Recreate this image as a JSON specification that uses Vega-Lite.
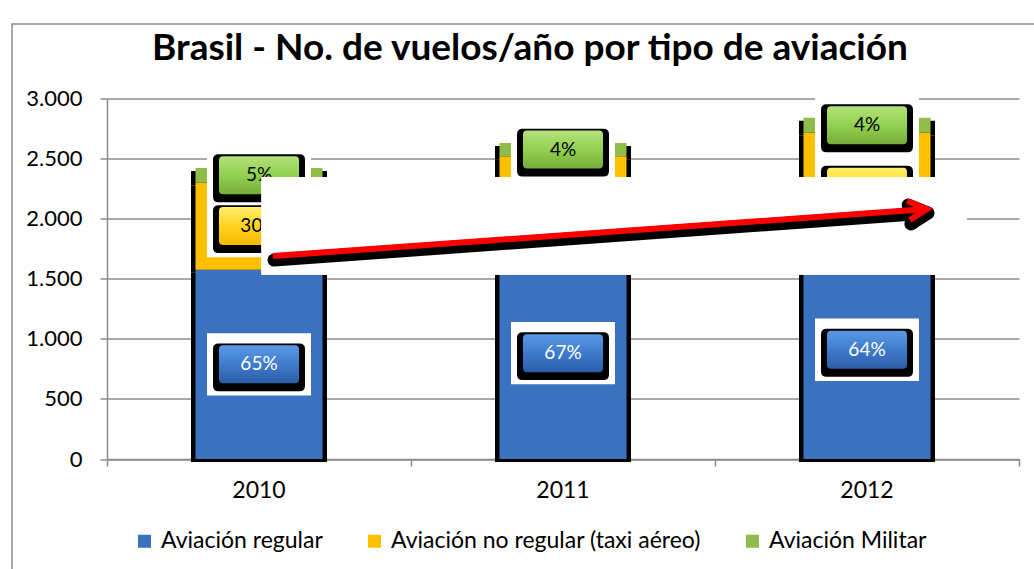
{
  "$schema": "https://vega.github.io/schema/vega-lite/v6.json",
  "width": 912,
  "height": 360.5,
  "autosize": {"type": "none"},
  "padding": {"left": 107, "top": 98.5, "right": 15, "bottom": 110},
  "background": "white",
  "config": {
    "font": "Lato",
    "view": {"stroke": null},
    "locale": {"number": {"decimal": ",", "thousands": ".", "grouping": [3], "currency": ["", "€"]}}
  },
  "title": {
    "text": "Brasil - No. de vuelos/año por tipo de aviación",
    "font": "Lato",
    "fontSize": 37,
    "fontWeight": "bold",
    "color": "black",
    "anchor": "middle",
    "frame": "group",
    "baseline": "bottom",
    "offset": -82,
    "dx": -33
  },
  "datasets": {
    "vuelos": [
      {"year": "2010", "tipo": "Aviación regular", "vuelos": 1575, "pct": "65%", "orden": 1},
      {"year": "2010", "tipo": "Aviación no regular (taxi aéreo)", "vuelos": 726, "pct": "30%", "orden": 2},
      {"year": "2010", "tipo": "Aviación Militar", "vuelos": 121, "pct": "5%", "orden": 3},
      {"year": "2011", "tipo": "Aviación regular", "vuelos": 1762, "pct": "67%", "orden": 1},
      {"year": "2011", "tipo": "Aviación no regular (taxi aéreo)", "vuelos": 758, "pct": "29%", "orden": 2},
      {"year": "2011", "tipo": "Aviación Militar", "vuelos": 110, "pct": "4%", "orden": 3},
      {"year": "2012", "tipo": "Aviación regular", "vuelos": 1818, "pct": "64%", "orden": 1},
      {"year": "2012", "tipo": "Aviación no regular (taxi aéreo)", "vuelos": 897, "pct": "32%", "orden": 2},
      {"year": "2012", "tipo": "Aviación Militar", "vuelos": 125, "pct": "4%", "orden": 3}
    ],
    "overlay": [
      {"ax": 0.507, "ax2": 2.829, "ay": 1531, "ay2": 2347}
    ],
    "frame": [
      {"ax": -0.3125, "ax2": 3.4, "ay": 3620, "ay2": -1500}
    ],
    "arrow": [
      {"seg": "shaft", "k": 1, "ax": 0.546, "ay": 1689},
      {"seg": "shaft", "k": 2, "ax": 2.697, "ay": 2080},
      {"seg": "head", "k": 1, "ax": 2.632, "ay": 2147},
      {"seg": "head", "k": 2, "ax": 2.697, "ay": 2080},
      {"seg": "head", "k": 3, "ax": 2.641, "ay": 1989}
    ]
  },
  "layer": [
    {
      "data": {"name": "vuelos"},
      "encoding": {
        "x": {
          "field": "year",
          "type": "nominal",
          "scale": {"paddingInner": 0, "paddingOuter": 0},
          "axis": {
            "title": null,
            "ticks": false,
            "tickSize": 0,
            "domainColor": "#8c8c8c",
            "domainWidth": 1.5,
            "labelFont": "Lato",
            "labelFontSize": 23,
            "labelColor": "black",
            "labelPadding": 20,
            "labelAngle": 0
          }
        },
        "y": {
          "field": "vuelos",
          "type": "quantitative",
          "stack": "zero",
          "scale": {"domain": [0, 3000], "nice": false},
          "axis": {
            "title": null,
            "values": [0, 500, 1000, 1500, 2000, 2500, 3000],
            "format": ",.0f",
            "grid": true,
            "gridColor": "#8c8c8c",
            "gridWidth": 1.5,
            "domainColor": "#8c8c8c",
            "domainWidth": 1.5,
            "tickColor": "#8c8c8c",
            "tickWidth": 1.5,
            "tickSize": 7,
            "labelFont": "Lato",
            "labelFontSize": 22,
            "labelColor": "black",
            "labelPadding": 18
          }
        },
        "detail": {"field": "tipo"},
        "order": {"field": "orden", "type": "quantitative"}
      },
      "layer": [
        {
          "mark": {"type": "bar", "color": "black", "width": 136, "yOffset": 3, "y2Offset": 3}
        },
        {
          "mark": {"type": "bar", "width": 127},
          "encoding": {
            "color": {
              "field": "tipo",
              "type": "nominal",
              "scale": {
                "domain": ["Aviación regular", "Aviación no regular (taxi aéreo)", "Aviación Militar"],
                "range": ["#3a72c0", "#ffc000", "#8fbc4a"]
              },
              "legend": {
                "orient": "none",
                "legendX": 26,
                "legendY": 431,
                "direction": "horizontal",
                "title": null,
                "symbolType": "square",
                "symbolSize": 170,
                "symbolStrokeWidth": 0,
                "labelFont": "Lato",
                "labelFontSize": 23,
                "labelColor": "black",
                "labelLimit": 0,
                "labelOffset": 5,
                "columnPadding": 40
              }
            }
          }
        },
        {
          "mark": {"type": "point", "filled": true, "opacity": 1, "strokeWidth": 0, "fill": "white",
                   "shape": "M-1,-0.6L1,-0.6L1,0.6L-1,0.6Z", "size": 10816},
          "encoding": {
            "y": {"field": "vuelos", "type": "quantitative", "stack": "zero", "bandPosition": 0.5}
          }
        },
        {
          "mark": {"type": "point", "filled": true, "opacity": 1, "strokeWidth": 0, "fill": "black", "yOffset": 3,
                   "shape": "M-0.88,-0.52L0.88,-0.52Q1,-0.52 1,-0.4L1,0.4Q1,0.52 0.88,0.52L-0.88,0.52Q-1,0.52 -1,0.4L-1,-0.4Q-1,-0.52 -0.88,-0.52Z",
                   "size": 8464},
          "encoding": {
            "y": {"field": "vuelos", "type": "quantitative", "stack": "zero", "bandPosition": 0.5}
          }
        },
        {
          "mark": {"type": "point", "filled": true, "opacity": 1, "strokeWidth": 0,
                   "shape": "M-0.9,-0.475L0.9,-0.475Q1,-0.475 1,-0.375L1,0.375Q1,0.475 0.9,0.475L-0.9,0.475Q-1,0.475 -1,0.375L-1,-0.375Q-1,-0.475 -0.9,-0.475Z",
                   "size": 6400},
          "encoding": {
            "y": {"field": "vuelos", "type": "quantitative", "stack": "zero", "bandPosition": 0.5},
            "fill": {
              "condition": [
                {"test": "datum.orden === 1", "value": {"gradient": "linear", "x1": 0, "y1": 0, "x2": 0, "y2": 1,
                  "stops": [{"offset": 0, "color": "#5b99e6"}, {"offset": 0.5, "color": "#3f7bcc"}, {"offset": 1, "color": "#2b5da6"}]}},
                {"test": "datum.orden === 3", "value": {"gradient": "linear", "x1": 0, "y1": 0, "x2": 0, "y2": 1,
                  "stops": [{"offset": 0, "color": "#b4e27a"}, {"offset": 0.5, "color": "#92d050"}, {"offset": 1, "color": "#78ad3a"}]}}
              ],
              "value": {"gradient": "linear", "x1": 0, "y1": 0, "x2": 0, "y2": 1,
                "stops": [{"offset": 0, "color": "#fff06a"}, {"offset": 0.5, "color": "#ffd21f"}, {"offset": 1, "color": "#f5b800"}]}
            }
          }
        },
        {
          "mark": {"type": "text", "font": "Lato", "fontSize": 19, "align": "center", "baseline": "middle"},
          "encoding": {
            "y": {"field": "vuelos", "type": "quantitative", "stack": "zero", "bandPosition": 0.5},
            "text": {"field": "pct"},
            "color": {
              "condition": {"test": "datum.orden === 1", "value": "white"},
              "value": "black"
            }
          }
        }
      ]
    },
    {
      "encoding": {
        "x": {
          "field": "ax",
          "type": "quantitative",
          "scale": {"domain": [0, 3], "nice": false, "zero": false},
          "axis": {
            "orient": "bottom",
            "values": [0, 1, 2, 3],
            "labels": false,
            "domain": false,
            "grid": false,
            "ticks": true,
            "tickSize": 7,
            "tickColor": "#8c8c8c",
            "tickWidth": 1.5,
            "title": null
          }
        },
        "y": {
          "field": "ay",
          "type": "quantitative",
          "scale": {"domain": [0, 3000], "nice": false},
          "axis": null
        }
      },
      "layer": [
        {
          "data": {"name": "overlay"},
          "mark": {"type": "rect", "fill": "white"},
          "encoding": {"x2": {"field": "ax2"}, "y2": {"field": "ay2"}}
        },
        {
          "data": {"name": "frame"},
          "mark": {"type": "rect", "fill": null, "filled": false, "stroke": "#8c8c8c", "strokeWidth": 1.5},
          "encoding": {"x2": {"field": "ax2"}, "y2": {"field": "ay2"}}
        },
        {
          "data": {"name": "arrow"},
          "mark": {"type": "line", "color": "black", "strokeWidth": 13, "strokeCap": "round", "strokeJoin": "round", "yOffset": 4, "xOffset": 1},
          "encoding": {"detail": {"field": "seg"}, "order": {"field": "k", "type": "quantitative"}}
        },
        {
          "data": {"name": "arrow"},
          "mark": {"type": "line", "color": "#ff0000", "strokeWidth": 6, "strokeCap": "butt", "strokeJoin": "miter"},
          "encoding": {"detail": {"field": "seg"}, "order": {"field": "k", "type": "quantitative"}}
        }
      ]
    }
  ],
  "resolve": {"scale": {"x": "independent"}, "axis": {"x": "independent", "y": "independent"}}
}
